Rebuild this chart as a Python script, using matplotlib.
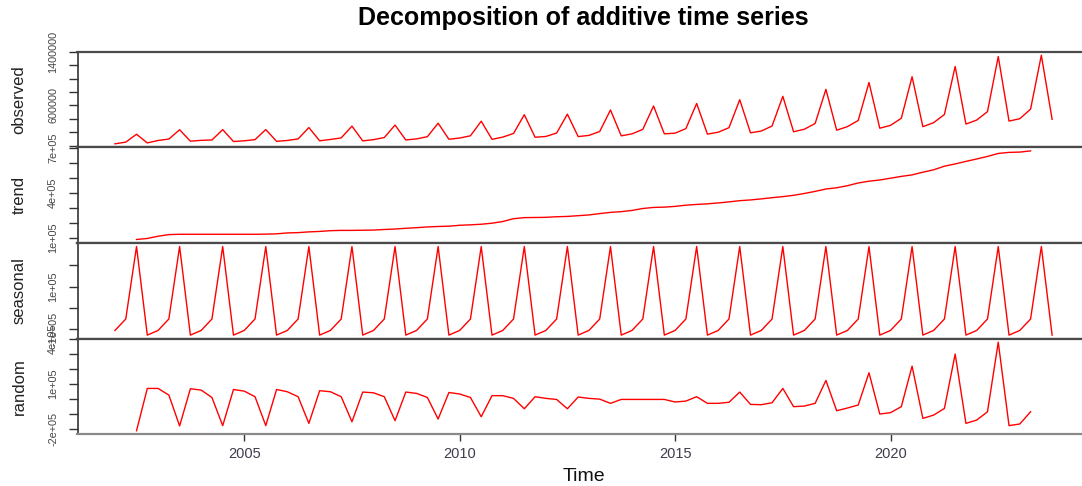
import numpy as np
import matplotlib
matplotlib.use("Agg")
import matplotlib.pyplot as plt

plt.rcParams['font.family'] = ['Liberation Sans', 'DejaVu Sans']

# quarterly series, 2002 Q1 .. 2023 Q4 (values in thousands)
start_year = 2002.0
freq = 4

observed = [
    27, 52, 170, 40,
    77, 98, 237, 66,
    79, 84, 239, 61,
    72, 89, 240, 64,
    77, 100, 270, 72,
    92, 115, 291, 71,
    89, 121, 307, 84,
    101, 133, 335, 95,
    113, 147, 365, 94,
    127, 182, 462, 125,
    137, 188, 470, 135,
    153, 211, 533, 146,
    176, 243, 592, 176,
    186, 254, 630, 172,
    200, 268, 686, 191,
    218, 293, 737, 207,
    245, 331, 841, 230,
    284, 376, 944, 260,
    303, 409, 1030, 283,
    343, 465, 1183, 322,
    382, 508, 1332, 367,
    402, 545, 1351, 393,
]

# moving-average trend, 2002 Q3 .. 2023 Q2
trend = [
    91.5, 98,
    113, 124, 126, 126,
    126, 126, 126, 126,
    126, 126, 127, 129,
    135, 137, 142, 145,
    150, 152, 152, 153,
    154, 158, 161, 166,
    170, 175, 178, 180,
    186, 189, 193, 200,
    211, 230, 237, 238,
    239, 243, 245, 250,
    255, 264, 272, 277,
    285, 298, 305, 307,
    312, 320, 325, 329,
    335, 342, 350, 355,
    362, 370, 377, 386,
    398, 412, 428, 436,
    450, 468, 480, 488,
    500, 512, 522, 540,
    556, 580, 595, 612,
    628, 645, 665, 672,
    674, 682,
]

# seasonal effect per quarter Q1..Q4
seasonal_pattern = [-107, -53, 289, -129]

# remainder, 2002 Q3 .. 2023 Q2
remainder = [
    -210, 71,
    71, 27, -178, 69,
    60, 11, -176, 64,
    53, 16, -176, 64,
    49, 16, -161, 56,
    49, 16, -150, 47,
    42, 16, -143, 47,
    38, 11, -132, 44,
    34, 11, -117, 23,
    23, 5, -64, 16,
    5, -2, -64, 14,
    5, 0, -28, -2,
    -2, -2, -2, -2,
    -19, -13, 16, -28,
    -28, -21, 47, -35,
    -37, -24, 71, -50,
    -46, -28, 124, -77,
    -59, -39, 175, -99,
    -90, -50, 219, -128,
    -106, -62, 299, -161,
    -139, -84, 378, -176,
    -165, -84,
]

time = start_year + np.arange(len(observed)) / freq
mid_time = time[2:2 + len(trend)]
seasonal = np.tile(seasonal_pattern, len(observed) // freq)

panels = [
    ("observed", time, np.array(observed) * 1000,
     [0, 200000, 400000, 600000, 800000, 1000000, 1200000, 1400000],
     {600000: "600000", 1400000: "1400000"}),
    ("trend", mid_time, np.array(trend) * 1000,
     [100000, 200000, 300000, 400000, 500000, 600000, 700000],
     {100000: "1e+05", 400000: "4e+05", 700000: "7e+05"}),
    ("seasonal", time, seasonal * 1000,
     [-100000, 0, 100000, 200000],
     {-100000: "-1e+05", 100000: "1e+05"}),
    ("random", mid_time, np.array(remainder) * 1000,
     [-200000, -100000, 0, 100000, 200000, 300000, 400000],
     {-200000: "-2e+05", 100000: "1e+05", 400000: "4e+05"}),
]

W, H = 1082, 486
fig = plt.figure(figsize=(W / 100, H / 100), dpi=100)

left_px, right_px = 77.5, 1089.6
top_px, panel_h = 51.7, 95.65

t0, t1 = time[0], time[-1]
xpad = 0.04 * (t1 - t0)

for i, (name, t, vals, ticks, shown) in enumerate(panels):
    bottom_px = top_px + (i + 1) * panel_h
    ax = fig.add_axes([left_px / W, 1 - bottom_px / H,
                       (right_px - left_px) / W, panel_h / H])
    ax.plot(t, vals, color="#ff0000", lw=1.0)
    ax.set_xlim(t0 - xpad, t1 + xpad)
    lo, hi = np.min(vals), np.max(vals)
    r = hi - lo
    ax.set_ylim(lo - 0.04 * r, hi + 0.04 * r)

    ax.set_yticks(ticks)
    ax.set_yticklabels([shown.get(v, "") for v in ticks])
    ax.tick_params(axis="y", length=6.5, width=1.0, pad=7.5, labelsize=7.8,
                   labelcolor="#444444", labelrotation=90, color="#333333")
    for lab in ax.get_yticklabels():
        lab.set_va("center")

    for side in ("top", "bottom"):
        ax.spines[side].set_color("#4a4a4a")
        ax.spines[side].set_linewidth(1.6)
    ax.spines["left"].set_color("#333333")
    ax.spines["left"].set_linewidth(1.2)

    if i == len(panels) - 1:
        ax.spines["bottom"].set_color("#8a8a8a")
        ax.set_xticks([2005, 2010, 2015, 2020])
        ax.tick_params(axis="x", length=5, width=1.0, pad=4, labelsize=10.5,
                       labelcolor="#3d3d4d", color="#333333")
    else:
        ax.tick_params(axis="x", bottom=False, labelbottom=False)

    yc = 1 - (bottom_px - panel_h / 2) / H
    fig.text(19 / W, yc, name, rotation=90, ha="center", va="center",
             fontsize=12, color="#222222")

fig.text(583.5 / W, 1 - 18 / H, "Decomposition of additive time series",
         ha="center", va="center", fontsize=18, fontweight="bold")
fig.text(583.5 / W, 1 - 476 / H, "Time", ha="center", va="center",
         fontsize=14, color="#111111")

fig.savefig("out.png", dpi=100)
